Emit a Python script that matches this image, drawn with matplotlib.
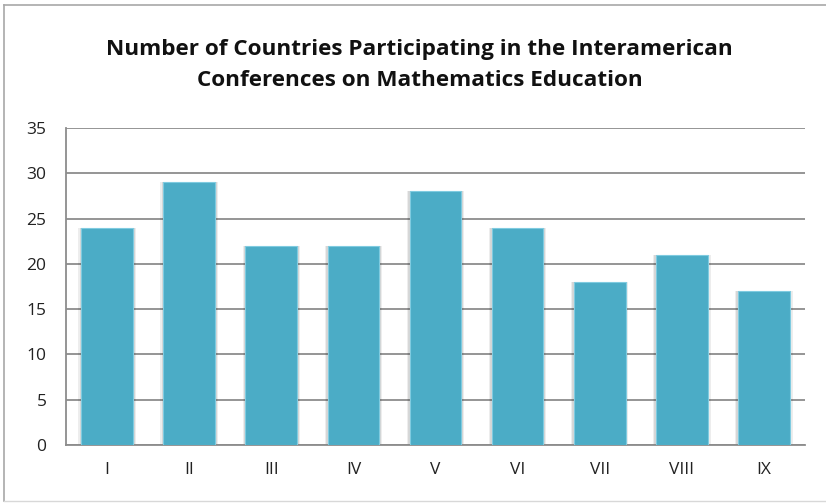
import matplotlib
matplotlib.use("Agg")
import matplotlib.pyplot as plt
from matplotlib.lines import Line2D

categories = ["I", "II", "III", "IV", "V", "VI", "VII", "VIII", "IX"]
values = [24, 29, 22, 22, 28, 24, 18, 21, 17]
yticks = [0, 5, 10, 15, 20, 25, 30, 35]

plt.rcParams['font.family'] = ['Open Sans', 'DejaVu Sans']

fig = plt.figure(figsize=(8.26, 5.03), dpi=100)
ax = fig.add_axes([66/826, 1 - 445/503, (805-66)/826, (445-128)/503])

x = list(range(len(categories)))
# soft shadow
for dx, a in [(0.035, 0.07), (0.02, 0.09)]:
    ax.bar(x, values, width=0.63 + 2*dx, color='#000000', alpha=a,
           zorder=2, linewidth=0)
ax.bar(x, values, width=0.63, color='#4BACC6', edgecolor='#7fcbe0', linewidth=0.8, zorder=3)

ax.set_xlim(-0.5, len(categories) - 0.5)
ax.set_ylim(0, 35)
ax.set_yticks(yticks)
ax.set_xticks(x)
ax.set_xticklabels(categories)
ax.yaxis.grid(True, color='#8c8c8c', linewidth=1.3, zorder=1)
ax.set_axisbelow(True)
for s in ['top', 'right']:
    ax.spines[s].set_visible(False)
for s in ['left', 'bottom']:
    ax.spines[s].set_color('#8c8c8c')
    ax.spines[s].set_linewidth(1.3)
ax.tick_params(axis='both', length=0, labelsize=12.5, colors='#222222')
ax.tick_params(axis='x', pad=12)
ax.tick_params(axis='y', pad=14)

fig.text(0.508, 1 - 65/503, "Number of Countries Participating in the Interamerican\nConferences on Mathematics Education",
         ha='center', va='center', fontsize=16.2, fontweight='bold', linespacing=1.6, color='#111111')

bc = '#a8a8a8'
fig.add_artist(Line2D([4/826, 4/826], [2/503, 1 - 5/503], transform=fig.transFigure, color=bc, lw=1.2))
fig.add_artist(Line2D([4/826, 1], [1 - 5/503, 1 - 5/503], transform=fig.transFigure, color=bc, lw=1.2))
fig.add_artist(Line2D([4/826, 1], [2/503, 2/503], transform=fig.transFigure, color='#d8d8d8', lw=1.0))

fig.savefig("out.png", dpi=100)
